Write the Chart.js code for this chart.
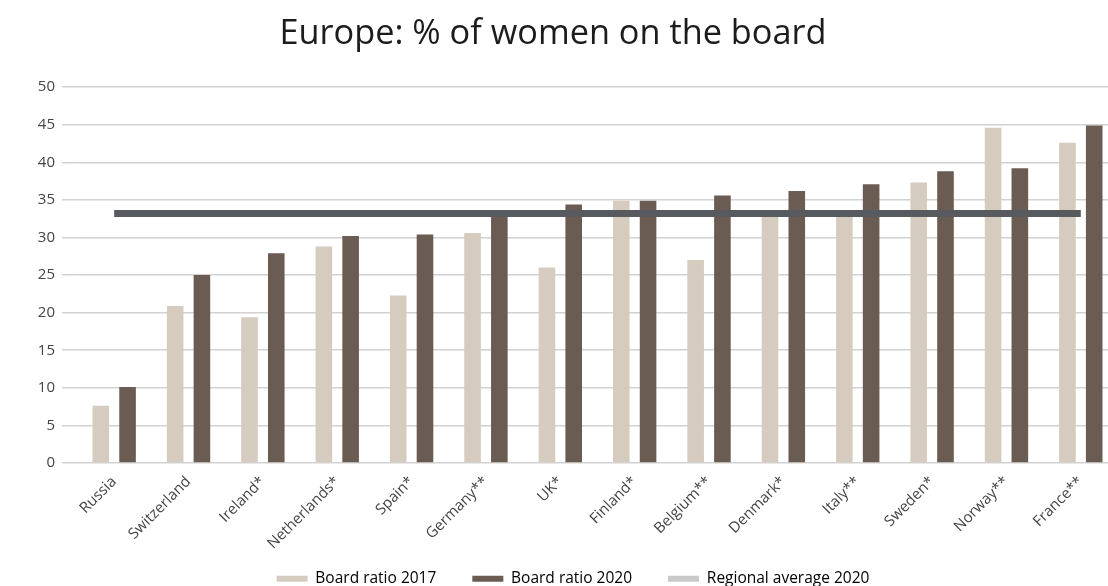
<!DOCTYPE html>
<html>
<head>
<meta charset="utf-8">
<title>Europe: % of women on the board</title>
<script src="https://cdn.jsdelivr.net/npm/chart.js@4/dist/chart.umd.min.js"></script>
<style>
  html, body { margin: 0; padding: 0; background: #fff; overflow: hidden; }
  #chart-box { position: relative; width: 1118px; height: 586px; }
</style>
</head>
<body>
<div id="chart-box"><canvas id="board-chart"></canvas></div>
<script>
'use strict';

// DATA
const countries = ['Russia', 'Switzerland', 'Ireland*', 'Netherlands*', 'Spain*', 'Germany**', 'UK*',
  'Finland*', 'Belgium**', 'Denmark*', 'Italy**', 'Sweden*', 'Norway**', 'France**'];
const ratio2017 = [7.6, 20.9, 19.4, 28.8, 22.3, 30.6, 26.0, 34.9, 27.0, 33.0, 33.0, 37.3, 44.6, 42.6];
const ratio2020 = [10.1, 25.0, 27.9, 30.2, 30.4, 33.3, 34.4, 34.9, 35.6, 36.2, 37.1, 38.8, 39.2, 44.9];
const regionalAverage2020 = [33.2, 33.2, 33.2, 33.2, 33.2, 33.2, 33.2, 33.2, 33.2, 33.2, 33.2, 33.2, 33.2, 33.2];
const yTicks = [0, 5, 10, 15, 20, 25, 30, 35, 40, 45, 50];

// COLORS
const LIGHT = '#d6cbbf';
const DARK = '#6b5c53';
const AVG_LINE = '#575b5f';
const AVG_LEGEND = '#c9c9c9';
const FONT = "'Open Sans', 'Liberation Sans', sans-serif";

// legend swatch colours, one per dataset (average shows a light swatch)
const legendColors = [LIGHT, DARK, AVG_LEGEND];

// NUDGE TITLE AND LEGEND AFTER LAYOUT
// the legend is pulled up so its padding can overlap the tall x axis box
const shiftBlocks = {
  id: 'shiftBlocks',
  afterLayout(chart) {
    const t = chart.titleBlock;
    if (t) { t.left -= 6; t.right -= 6; }
    const l = chart.legend;
    if (l) { l.left += 14; l.right += 14; l.top -= 14; }
  },
};

const config = {
  data: {
    labels: countries,
    datasets: [
      {
        type: 'bar',
        label: 'Board ratio 2017',
        data: ratio2017,
        backgroundColor: LIGHT,
        order: 1,
      },
      {
        type: 'bar',
        label: 'Board ratio 2020',
        data: ratio2020,
        backgroundColor: DARK,
        order: 1,
      },
      {
        type: 'line',
        label: 'Regional average 2020',
        data: regionalAverage2020,
        borderColor: AVG_LINE,
        backgroundColor: AVG_LEGEND,
        borderWidth: 7,
        borderCapStyle: 'butt',
        pointRadius: 0,
        pointHoverRadius: 0,
        fill: false,
        order: 0,
      },
    ],
  },
  options: {
    responsive: true,
    maintainAspectRatio: false,
    animation: false,
    datasets: {
      bar: { categoryPercentage: 0.72, barPercentage: 0.62 },
    },
    layout: { padding: 0 },
    plugins: {
      title: {
        display: true,
        text: 'Europe: % of women on the board',
        color: '#1c1c1c',
        font: { family: FONT, size: 34.3, weight: 'normal' },
        padding: { top: 14, bottom: 32 },
      },
      legend: {
        position: 'bottom',
        maxHeight: 37,
        labels: {
          boxWidth: 31,
          boxHeight: 6,
          padding: 36,
          color: '#333333',
          font: { family: FONT, size: 15.5 },
          generateLabels(chart) {
            return chart.data.datasets.map((ds, i) => ({
              text: ds.label,
              fillStyle: legendColors[i],
              strokeStyle: legendColors[i],
              lineWidth: 0,
              hidden: !chart.isDatasetVisible(i),
              datasetIndex: i,
            }));
          },
        },
      },
      tooltip: { enabled: false },
    },
    scales: {
      x: {
        grid: { display: false, drawTicks: false },
        border: { display: false },
        ticks: {
          minRotation: 45,
          maxRotation: 45,
          padding: 10,
          color: '#444444',
          font: { family: FONT, size: 15 },
        },
        afterFit: (axis) => { axis.height = 86; },
      },
      y: {
        min: 0,
        max: 50,
        afterBuildTicks: (axis) => { axis.ticks = yTicks.map((v) => ({ value: v })); },
        grid: { color: '#d2d2d2', lineWidth: 1.5, tickLength: 15, drawTicks: true },
        border: { display: false },
        ticks: {
          padding: 7,
          color: '#444444',
          font: { family: FONT, size: 15 },
        },
        afterFit: (axis) => { axis.width = 77; },
      },
    },
  },
  plugins: [shiftBlocks],
};

const boardChart = new Chart(document.querySelector('#board-chart'), config);
</script>
</body>
</html>
